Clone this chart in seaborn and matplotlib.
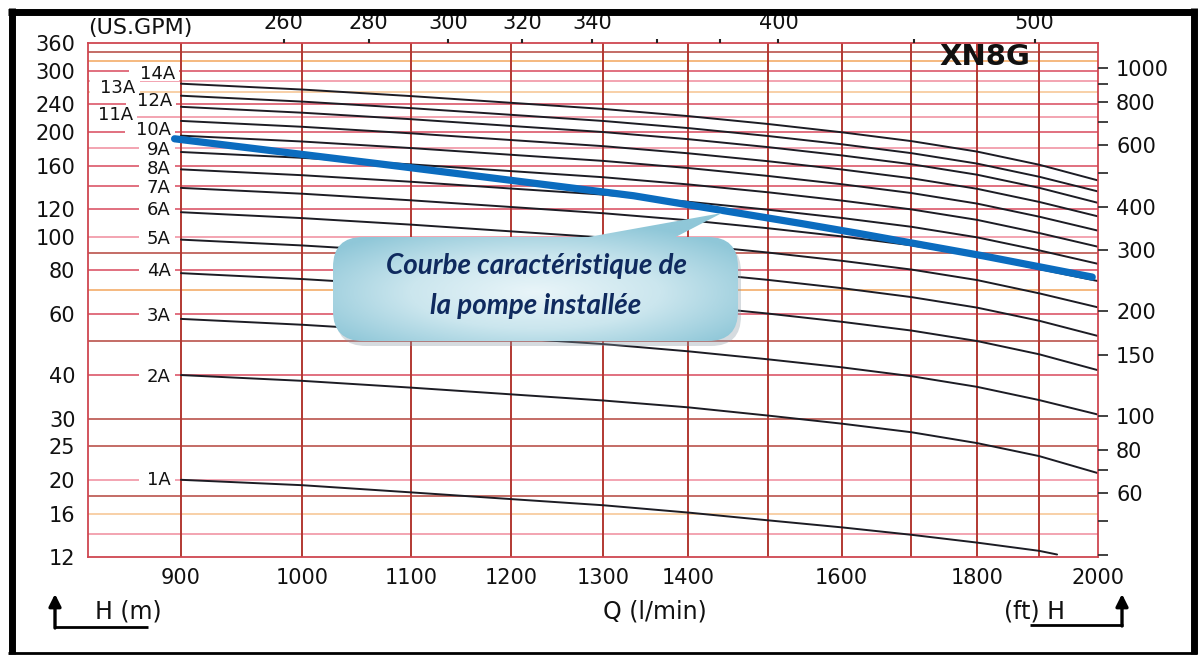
import matplotlib
matplotlib.use("Agg")
import matplotlib.pyplot as plt
import matplotlib.transforms as mtransforms
from matplotlib.patches import FancyBboxPatch, Polygon, Rectangle
from matplotlib.colors import LinearSegmentedColormap
from matplotlib.ticker import NullLocator
import numpy as np
import pandas as pd
import seaborn as sns

# ---------------------------------------------------------------- data
# flow rate (l/min) at which the head curves are tabulated
q_lpm = [900, 1000, 1100, 1200, 1300, 1400, 1500, 1600, 1700, 1800, 1900, 2000]
q_1A = [900, 1000, 1100, 1200, 1300, 1400, 1500, 1600, 1700, 1800, 1900, 1930]

# head (m) of each impeller model
head_1A = [20.0, 19.3, 18.4, 17.6, 16.9, 16.1, 15.3, 14.6, 13.9, 13.2, 12.5, 12.2]
head_2A = [40.0, 38.5, 36.8, 35.2, 33.8, 32.3, 30.6, 29.0, 27.4, 25.5, 23.4, 20.9]
head_3A = [58.0, 55.8, 53.4, 51.1, 49.1, 46.8, 44.4, 42.1, 39.7, 37.0, 33.9, 30.8]
head_4A = [78.5, 75.5, 72.3, 69.2, 66.4, 63.3, 60.1, 56.9, 53.7, 50.1, 45.9, 41.3]
head_5A = [98.0, 94.3, 90.3, 86.3, 82.9, 79.1, 75.1, 71.1, 67.0, 62.5, 57.3, 51.8]
head_6A = [117.5, 113.0, 108.2, 103.5, 99.4, 94.8, 90.0, 85.2, 80.4, 75.0, 68.7, 62.6]
head_7A = [138.0, 132.8, 127.1, 121.6, 116.7, 111.4, 105.7, 100.1, 94.4, 88.0, 80.7, 74.5]
head_8A = [156.0, 150.1, 143.7, 137.4, 132.0, 125.9, 119.5, 113.1, 106.7, 99.5, 91.3, 83.5]
head_9A = [175.0, 168.4, 161.2, 154.2, 148.1, 141.2, 134.1, 126.9, 119.7, 111.7, 102.4, 93.5]
head_10A = [195.0, 187.6, 179.6, 171.8, 165.0, 157.4, 149.4, 141.4, 133.4, 124.4, 114.1, 104.0]
head_11A = [215.0, 206.8, 198.0, 189.4, 181.9, 173.5, 164.7, 155.9, 147.1, 137.2, 125.8, 114.3]
head_12A = [236.0, 227.0, 217.4, 207.9, 199.7, 190.5, 180.8, 171.1, 161.4, 150.6, 138.1, 125.0]
head_13A = [254.0, 244.3, 233.9, 223.8, 214.9, 205.0, 194.6, 184.2, 173.7, 162.1, 148.6, 134.8]
head_14A = [275.0, 264.6, 253.3, 242.3, 232.7, 221.9, 210.7, 199.4, 188.1, 175.5, 160.9, 145.0]

curve_names = ["1A", "2A", "3A", "4A", "5A", "6A", "7A",
               "8A", "9A", "10A", "11A", "12A", "13A", "14A"]
curve_heads = [head_1A, head_2A, head_3A, head_4A, head_5A, head_6A, head_7A,
               head_8A, head_9A, head_10A, head_11A, head_12A, head_13A, head_14A]

# characteristic curve of the installed pump
q_pump = [895, 1090, 1335, 1545, 1625, 1810, 1990]
h_pump = [191, 159, 131, 109, 102, 88, 76.5]

# axis ticks
x_ticks = [900, 1000, 1100, 1200, 1300, 1400, 1600, 1800, 2000]
y_ticks_m = [12, 16, 20, 25, 30, 40, 60, 80, 100, 120, 160, 200, 240, 300, 360]
gpm_ticks = [260, 280, 300, 320, 340, 360, 380, 400, 450, 500]
gpm_labels = ["260", "280", "300", "320", "340", "", "", "400", "", "500"]
ft_ticks = [40, 50, 60, 70, 80, 100, 150, 200, 300, 400, 500, 600, 700, 800, 900, 1000]
ft_labels = ["", "", "60", "", "80", "100", "150", "200", "300", "400", "", "600", "",
             "800", "", "1000"]

# chart grid
grid_q = [900, 1000, 1100, 1200, 1300, 1400, 1500, 1600, 1700, 1800, 1900]
grid_h = [340, 320, 300, 280, 260, 240, 220, 200, 180, 160, 140, 120, 100, 90,
          80, 70, 60, 50, 40, 30, 25, 20, 18, 16, 14]

M_TO_FT = 3.2808
LPM_PER_GPM = 3.7854

# ---------------------------------------------------------------- style
sns.set_style("white")
plt.rcParams["font.family"] = ["DejaVu Sans"]

W, H = 1199, 655
fig = plt.figure(figsize=(W / 100, H / 100), dpi=100)
fig.patch.set_facecolor("white")

ax_l, ax_r, ax_t, ax_b = 88, 1098, 43, 557
ax = fig.add_axes([ax_l / W, 1 - ax_b / H, (ax_r - ax_l) / W, (ax_b - ax_t) / H])
ax.set_facecolor("white")

TICK_FS = 15
INK = "#111111"

# ---------------------------------------------------------------- grid
dark_red = "#b4443c"
red = "#d8495c"
pink = "#f08c9c"
orange = "#f3a55c"
pale = "#f7c490"
h_colors = [dark_red, orange, red, pink, pale, red, pink, red, pink, red,
            red, red, pink, dark_red, red, orange, red, dark_red, red,
            dark_red, dark_red, pink, dark_red, pale, pink]
for val, col in zip(grid_h, h_colors):
    ax.axhline(val, color=col, lw=1.1, zorder=1)
for val in grid_q:
    ax.axvline(val, color="#b23832", lw=1.4, zorder=1.2)

# ---------------------------------------------------------------- curves
frames = []
for name, heads in zip(curve_names, curve_heads):
    qs = q_1A if name == "1A" else q_lpm
    frames.append(pd.DataFrame({"Q": qs, "H": heads, "curve": name}))
df = pd.concat(frames, ignore_index=True)

ax.set_xscale("log")
ax.set_yscale("log")
sns.lineplot(data=df, x="Q", y="H", hue="curve", units="curve", estimator=None,
             palette=["#1c1c24"] * len(curve_names), legend=False, sort=False,
             linewidth=1.4, ax=ax, zorder=4)

sns.lineplot(x=q_pump, y=h_pump, color="#0b6cbf", linewidth=5.2, ax=ax,
             zorder=6, solid_capstyle="round")

# curve labels at the start of each curve; a white patch breaks the grid behind them
label_h = [20, 39.5, 59, 79.5, 98.5, 119, 137.7, 156, 177, 202, 224, 244.5, 268, 294]
label_x = [0.082, 0.082, 0.082, 0.082, 0.082, 0.082, 0.082, 0.082, 0.082,
           0.082, 0.045, 0.083, 0.047, 0.086]
blend = mtransforms.blended_transform_factory(ax.transAxes, ax.transData)
for name, lh, lx in zip(curve_names, label_h, label_x):
    wfrac = (0.013 * len(name)) + 0.006
    ax.add_patch(Rectangle((lx - wfrac, lh / 1.05), wfrac + 0.004, lh * 1.05 - lh / 1.05,
                           transform=blend, fc="white", ec="none", zorder=2.5))
    ax.text(lx, lh, name, transform=blend, ha="right", va="center", fontsize=13,
            color=INK, zorder=3)

ax.set_xlim(830, 2000)
ax.set_ylim(12, 360)

ax.set_xticks(x_ticks)
ax.set_xticklabels([str(v) for v in x_ticks])
ax.set_yticks(y_ticks_m)
ax.set_yticklabels([str(v) for v in y_ticks_m])
ax.xaxis.set_minor_locator(NullLocator())
ax.yaxis.set_minor_locator(NullLocator())
ax.tick_params(axis="x", length=0, pad=8, labelsize=TICK_FS, labelcolor=INK)
ax.tick_params(axis="y", length=0, pad=9, labelsize=TICK_FS, labelcolor=INK)
ax.set_xlabel("")
ax.set_ylabel("")
for side, sp in ax.spines.items():
    sp.set_color("#cf4650")
    sp.set_linewidth(1.3)
    sp.set_zorder(5)

# top axis: US gallons per minute
ax_top = ax.twiny()
ax_top.set_xscale("log")
ax_top.set_xlim(830 / LPM_PER_GPM, 2000 / LPM_PER_GPM)
ax_top.set_xticks(gpm_ticks)
ax_top.set_xticklabels(gpm_labels)
ax_top.xaxis.set_minor_locator(NullLocator())
ax_top.tick_params(axis="x", length=3, width=1.5, color="#222222", pad=4,
                   labelsize=TICK_FS, labelcolor=INK)
for sp in ax_top.spines.values():
    sp.set_visible(False)

# right axis: head in feet
ax_ft = ax.twinx()
ax_ft.set_yscale("log")
ax_ft.set_ylim(12 * M_TO_FT, 360 * M_TO_FT)
ax_ft.set_yticks(ft_ticks)
ax_ft.set_yticklabels(ft_labels)
ax_ft.yaxis.set_minor_locator(NullLocator())
ax_ft.tick_params(axis="y", length=7, width=1.3, color="#333333", pad=6,
                  labelsize=TICK_FS, labelcolor=INK)
for sp in ax_ft.spines.values():
    sp.set_visible(False)

# ---------------------------------------------------------------- annotations (pixel space)
ov = fig.add_axes([0, 0, 1, 1])
ov.set_facecolor("none")
ov.axis("off")

# callout bubble with a soft blue gradient
bx0, by0, bw, bh = 333, 237, 405, 104
shadow = FancyBboxPatch((bx0 + 3, by0 + 5), bw, bh,
                        boxstyle="round,pad=0,rounding_size=30",
                        fc="#8a9aa6", ec="none", alpha=0.35, zorder=9)
ov.add_patch(shadow)
box = FancyBboxPatch((bx0, by0), bw, bh, boxstyle="round,pad=0,rounding_size=30",
                     fc="none", ec="none", zorder=10)
ov.add_patch(box)
pointer = Polygon([(566, 241), (722, 213), (668, 241)], closed=True,
                  fc="none", ec="none", zorder=10)
ov.add_patch(pointer)

gx = np.linspace(0, 1, 300)
gy = np.linspace(0, 1, 200)
GX, GY = np.meshgrid(gx, gy)
dist = np.sqrt(((GX - 0.5) / 0.62) ** 2 + ((GY - 0.62) / 0.55) ** 2)
cmap = LinearSegmentedColormap.from_list("bubble", ["#e9f5f9", "#cbe6ee", "#8fc7d8"])
for clip in (box, pointer):
    im = ov.imshow(dist, cmap=cmap, vmin=0.0, vmax=1.0, extent=(333, 738, 343, 210),
                   aspect="auto", interpolation="bilinear", zorder=10)
    im.set_clip_path(clip)

txt_kw = dict(ha="center", va="center", fontsize=20, fontweight="bold",
              style="italic", color="#0f2a5e", family=["Lato", "DejaVu Sans"], zorder=12)
ov.text(536, 266, "Courbe caractéristique de", **txt_kw)
ov.text(536, 306, "la pompe installée", **txt_kw)

# header texts
ov.text(88, 28, "(US.GPM)", ha="left", va="center", fontsize=16, color=INK)
ov.text(985, 57, "XN8G", ha="center", va="center", fontsize=21, fontweight="bold",
        color=INK)

# axis titles with arrows
ov.text(128, 612, "H (m)", ha="center", va="center", fontsize=17, color=INK)
ov.text(655, 612, "Q (l/min)", ha="center", va="center", fontsize=17, color=INK)
ov.text(1035, 612, "(ft) H", ha="center", va="center", fontsize=17, color=INK)
ov.plot([54, 148], [627, 627], color="black", lw=2.0, solid_capstyle="butt")
ov.annotate("", xy=(55, 594), xytext=(55, 628),
            arrowprops=dict(arrowstyle="-|>", color="black", lw=2.4,
                            mutation_scale=18, shrinkA=0, shrinkB=0))
ov.plot([1030, 1123], [625, 625], color="black", lw=2.0, solid_capstyle="butt")
ov.annotate("", xy=(1122, 594), xytext=(1122, 626),
            arrowprops=dict(arrowstyle="-|>", color="black", lw=2.4,
                            mutation_scale=18, shrinkA=0, shrinkB=0))

# black frame around the sheet
ov.plot([8, 1197], [11.5, 11.5], color="black", lw=5.0, solid_capstyle="butt")
ov.plot([11.5, 11.5], [8, 654], color="black", lw=5.0, solid_capstyle="butt")
ov.plot([1193.5, 1193.5], [8, 654], color="black", lw=5.0, solid_capstyle="butt")
ov.plot([8, 1197], [652.5, 652.5], color="black", lw=2.0, solid_capstyle="butt")

ov.set_xlim(0, W)
ov.set_ylim(H, 0)

fig.savefig("out.png", dpi=100, facecolor="white")
